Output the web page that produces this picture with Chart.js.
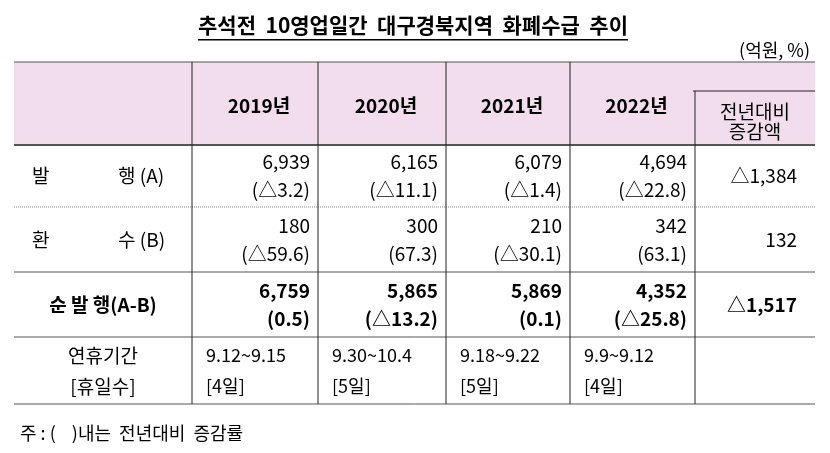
<!DOCTYPE html>
<html><head><meta charset="utf-8">
<script src="https://cdn.jsdelivr.net/npm/chart.js"></script>
<style>html,body{margin:0;padding:0;background:#fff}#w{position:relative;width:830px;height:453px}</style>
</head><body><div id="w"><canvas id="c" width="830" height="453"></canvas></div>
<script>
const title = "추석전  10영업일간  대구경북지역  화폐수급  추이";
const unitLabel = "(억원, %)";
const years = ["2019년", "2020년", "2021년", "2022년"];
const changeHeader = ["전년대비", "증감액"];
const rowLabels = [["발", "행 (A)"], ["환", "수 (B)"], ["순 발 행(A-B)"], ["연휴기간", "[휴일수]"]];
const issued = ["6,939", "6,165", "6,079", "4,694"];
const issuedPct = ["(△3.2)", "(△11.1)", "(△1.4)", "(△22.8)"];
const returned = ["180", "300", "210", "342"];
const returnedPct = ["(△59.6)", "(67.3)", "(△30.1)", "(63.1)"];
const net = ["6,759", "5,865", "5,869", "4,352"];
const netPct = ["(0.5)", "(△13.2)", "(0.1)", "(△25.8)"];
const holidays = ["9.12~9.15", "9.30~10.4", "9.18~9.22", "9.9~9.12"];
const holidayDays = ["[4일]", "[5일]", "[5일]", "[4일]"];
const changes = ["△1,384", "132", "△1,517"];
const footnote = "주 : (    )내는  전년대비  증감률";
const colEdges = [0, 178, 304, 432, 556, 681, 801];
const rowEdges = [0, 83, 145, 210, 275, 342];

const F = '"Noto Sans CJK KR", sans-serif';
const tablePlugin = {
  id: 'table',
  afterDraw(chart) {
    const ctx = chart.ctx, xs = chart.scales.x, ys = chart.scales.y;
    const X = v => xs.getPixelForValue(v), Y = v => ys.getPixelForValue(v);
    ctx.save();
    ctx.fillStyle = '#000'; ctx.font = 'bold 21px ' + F; ctx.textAlign = 'center'; ctx.textBaseline = 'middle';
    ctx.fillText(title, 413, 25);
    const tw = ctx.measureText(title).width;
    ctx.fillRect(413 - tw / 2, 39, tw, 1.5);
    ctx.font = '18px ' + F; ctx.textAlign = 'right';
    ctx.fillText(unitLabel, 810, 50);
    ctx.fillStyle = '#f2dded';
    ctx.fillRect(X(0), Y(0), X(801) - X(0), Y(83) - Y(0));
    const hl = (x0, x1, y, w, c, dash) => { ctx.beginPath(); ctx.setLineDash(dash || []); ctx.lineWidth = w; ctx.strokeStyle = c; ctx.moveTo(X(x0), Y(y)); ctx.lineTo(X(x1), Y(y)); ctx.stroke(); };
    const vl = (x, y0, y1) => { ctx.beginPath(); ctx.setLineDash([]); ctx.lineWidth = 1; ctx.strokeStyle = '#222'; ctx.moveTo(X(x), Y(y0)); ctx.lineTo(X(x), Y(y1)); ctx.stroke(); };
    hl(0, 801, rowEdges[0], 1.2, '#555');
    hl(0, 801, rowEdges[1], 2.2, '#555');
    hl(0, 801, rowEdges[2], 1, '#888', [1, 1]);
    hl(0, 801, rowEdges[3], 1.2, '#555');
    hl(0, 801, rowEdges[4], 1, '#555');
    hl(0, 801, rowEdges[5], 1, '#555');
    hl(colEdges[5] - 2, 801, 29, 1, '#222');
    for (let i = 1; i < 5; i++) vl(colEdges[i], 0, 342);
    vl(colEdges[5], 29, 342);
    const cx = i => (X(colEdges[i]) + X(colEdges[i + 1])) / 2;
    const cy = r => (Y(rowEdges[r]) + Y(rowEdges[r + 1])) / 2;
    ctx.fillStyle = '#000'; ctx.textBaseline = 'middle';
    ctx.font = 'bold 19px ' + F; ctx.textAlign = 'center';
    years.forEach((t, i) => ctx.fillText(t, cx(i + 1) + 4, cy(0) + 2));
    ctx.font = '19px ' + F;
    ctx.fillText(changeHeader[0], cx(5), Y(50)); ctx.fillText(changeHeader[1], cx(5), Y(70));
    ctx.textAlign = 'left';
    [[1, rowLabels[0]], [2, rowLabels[1]]].forEach(([r, l]) => { ctx.fillText(l[0], X(18), cy(r)); ctx.fillText(l[1], X(104), cy(r)); });
    ctx.font = 'bold 19px ' + F; ctx.textAlign = 'center';
    ctx.fillText(rowLabels[2][0], cx(0), cy(3));
    ctx.font = '19px ' + F;
    ctx.fillText(rowLabels[3][0], cx(0), cy(4) - 15); ctx.fillText(rowLabels[3][1], cx(0), cy(4) + 16);
    const two = (r, a, b, bold) => {
      ctx.font = (bold ? 'bold ' : '') + '19px ' + F; ctx.textAlign = 'right';
      a.forEach((t, i) => { const x = X(colEdges[i + 2]) - 8; ctx.fillText(t, x, cy(r) - 14); ctx.fillText(b[i], x, cy(r) + 14); });
    };
    two(1, issued, issuedPct); two(2, returned, returnedPct); two(3, net, netPct, true);
    ctx.font = '18px ' + F; ctx.textAlign = 'left';
    holidays.forEach((t, i) => { const x = X(colEdges[i + 1]) + 14; ctx.fillText(t, x, cy(4) - 15); ctx.fillText(holidayDays[i], x, cy(4) + 16); });
    ctx.textAlign = 'right';
    changes.forEach((t, i) => { ctx.font = (i === 2 ? 'bold ' : '') + '19px ' + F; ctx.fillText(t, X(801) - 18, cy(i + 1)); });
    ctx.font = '18px ' + F; ctx.textAlign = 'left';
    ctx.fillText(footnote, 20, 433);
    ctx.restore();
  }
};
new Chart(document.getElementById('c'), {
  type: 'scatter',
  data: { datasets: [{ data: [] }] },
  options: {
    responsive: false, animation: false, events: [],
    layout: { padding: { left: 14, right: 15, top: 62, bottom: 49 } },
    plugins: { legend: { display: false }, tooltip: { enabled: false } },
    scales: {
      x: { type: 'linear', min: 0, max: 801, display: false },
      y: { type: 'linear', min: 0, max: 342, reverse: true, display: false }
    }
  },
  plugins: [tablePlugin]
});
</script></body></html>
